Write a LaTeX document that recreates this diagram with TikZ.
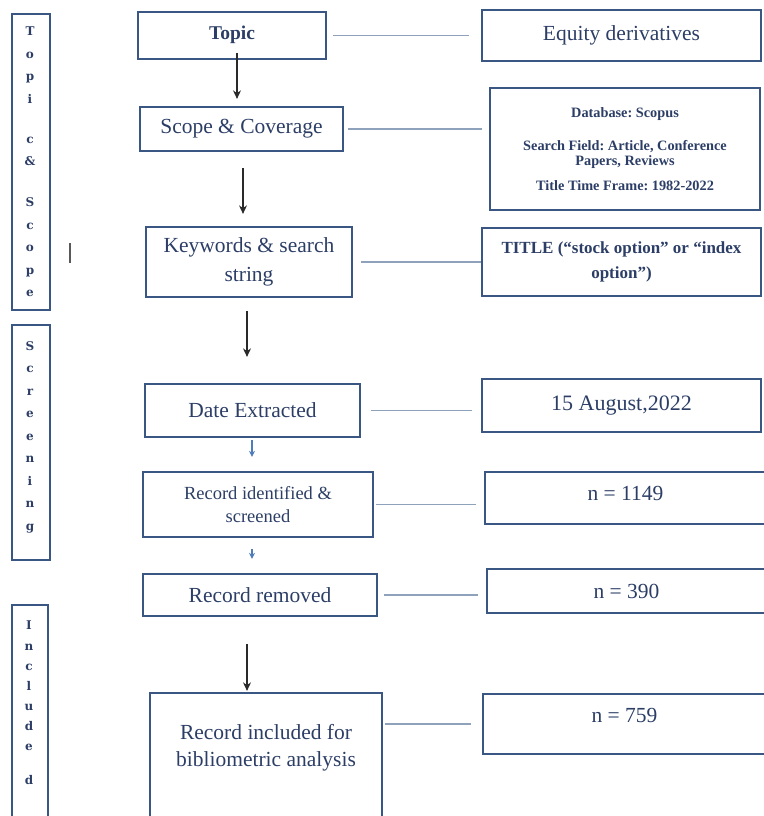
\documentclass[tikz,border=0pt]{standalone}
\usepackage{fontspec}
\setmainfont{Liberation Serif}
\newfontfamily\slabfont{DejaVu Serif}
\usetikzlibrary{arrows.meta,calc}
\frenchspacing
\definecolor{boxc}{HTML}{3A5683}
\definecolor{txtc}{HTML}{2C3E66}
\definecolor{linkc}{HTML}{8EA2BC}
\definecolor{arrc}{HTML}{2A2A2A}
\definecolor{bluearr}{HTML}{4E7DBA}
\tikzset{
  box/.style={draw=boxc,line width=2.3pt,text=txtc,align=center,inner sep=0pt,font=\fontsize{21.5}{25}\selectfont},
  smallbox/.style={box,font=\bfseries\fontsize{14.3}{14.5}\selectfont},
  sidebox/.style={draw=boxc,line width=2.3pt,inner sep=0pt},
  sidetext/.style={text=txtc,align=center,inner sep=0pt,font=\slabfont\bfseries\fontsize{12}{22.5}\selectfont},
  plaintext/.style={text=txtc,align=center,inner sep=0pt},
  link/.style={draw=linkc,line width=1.4pt},
  darr/.style={draw=arrc,line width=1.1pt,-{Stealth[length=8.5pt,width=8pt]}},
  barr/.style={draw=bluearr,line width=1.1pt,-{Stealth[length=6pt,width=6pt]}},
}
\begin{document}
\begin{tikzpicture}[x=1pt,y=-1pt]
\useasboundingbox (0,0) rectangle (763,816);

% left stage boxes
\node[sidebox,minimum width=38pt,minimum height=296pt] (stage1) at (31,162) {};
\node[sidetext,anchor=north] (stage1t) at (30,27) {T\\o\\p\\i\\[17.5pt]c\\\&\\[18.5pt]S\\c\\o\\p\\e};
\node[sidebox,minimum width=38pt,minimum height=235pt] (stage2) at (31,442.5) {};
\node[sidetext,anchor=north] (stage2t) at (30,341) {S\\c\\r\\e\\e\\n\\i\\n\\g};
\node[sidebox,minimum width=36pt,minimum height=225pt] (stage3) at (30,717.5) {};
\node[sidetext,anchor=north,font=\slabfont\bfseries\fontsize{12}{20.1}\selectfont] (stage3t) at (29,621) {I\\n\\c\\l\\u\\d\\e\\[14pt]d};

% stray mark
\draw[draw=black!65,line width=1.2pt] (70,243) -- (70,263);

% centre column
\node[box,font=\bfseries\fontsize{19.5}{24}\selectfont,minimum width=188pt,minimum height=47pt] (topic) at (232,35.5) {\raisebox{5pt}{Topic}};
\node[box,minimum width=203pt,minimum height=44pt] (scope) at (241.5,129) {Scope \& Coverage};
\node[box,font=\fontsize{21.5}{28.5}\selectfont,minimum width=206pt,minimum height=70pt] (kw) at (249,262) {Keywords \& search\\string};
\node[box,minimum width=215pt,minimum height=53pt] (date) at (252.5,410.5) {Date Extracted};
\node[box,font=\fontsize{18.5}{23.5}\selectfont,minimum width=230pt,minimum height=65pt] (rid) at (258,504.5) {Record identified \&\\screened};
\node[box,minimum width=234pt,minimum height=42pt] (rrem) at (260,595) {Record removed};
\node[box,minimum width=232pt,minimum height=129pt] (rinc) at (266,757.5) {};
\node[plaintext,font=\fontsize{21.5}{27}\selectfont] (rinct) at (266,747.5) {Record included for\\bibliometric analysis};

% right column
\node[box,minimum width=279pt,minimum height=51pt] (eq) at (621.5,35.5) {Equity derivatives};
\node[smallbox,minimum width=270pt,minimum height=122pt] (db) at (625,149) {Database: Scopus\\[18.5pt]Search Field: Article, Conference\\Papers, Reviews\\[10.5pt]Title Time Frame: 1982-2022};
\node[box,font=\bfseries\fontsize{17}{25}\selectfont,minimum width=279pt,minimum height=68pt] (title) at (621.5,262) {TITLE (“stock option” or “index\\option”)};
\node[box,font=\fontsize{22}{25}\selectfont,minimum width=279pt,minimum height=53pt] (aug) at (621.5,405.5) {15 August,2022};
\node[box,minimum width=281pt,minimum height=52pt] (n1149) at (625.5,498) {\raisebox{10pt}{n = 1149}};
\node[box,minimum width=279pt,minimum height=44pt] (n390) at (626.5,591) {n = 390};
\node[box,minimum width=283pt,minimum height=60pt] (n759) at (624.5,724) {\raisebox{18pt}{n = 759}};

% horizontal links
\draw[link] ([xshift=6pt]topic.east) -- ([xshift=-12pt]eq.west);
\draw[link] ([xshift=4pt]scope.east) -- ($(scope.east -| db.west)+(-7,0)$);
\draw[link] ([xshift=8pt]kw.east) -- (title.west);
\draw[link] ([xshift=10pt]date.east) -- ($(date.east -| aug.west)+(-9,0)$);
\draw[link] ([xshift=2pt]rid.east) -- ($(rid.east -| n1149.west)+(-8,0)$);
\draw[link] ([xshift=6pt]rrem.east) -- ($(rrem.east -| n390.west)+(-8,0)$);
\draw[link] ($(n759.west -| rinc.east)+(2,0)$) -- ([xshift=-11pt]n759.west);

% vertical arrows
\draw[darr] ([xshift=5pt,yshift=7pt]topic.south) -- ([xshift=-4.5pt,yshift=7pt]scope.north);
\draw[darr] ([xshift=1.5pt,yshift=-16pt]scope.south) -- ([xshift=-6pt,yshift=12pt]kw.north);
\draw[darr] ([xshift=-2pt,yshift=-13pt]kw.south) -- ([xshift=-5.5pt,yshift=26pt]date.north);
\draw[barr] ([xshift=-0.5pt,yshift=-2pt]date.south) -- ([xshift=-6pt,yshift=14pt]rid.north);
\draw[barr] ([xshift=-6pt,yshift=-11pt]rid.south) -- ([xshift=-8pt,yshift=14pt]rrem.north);
\draw[darr] ([xshift=-13pt,yshift=-27pt]rrem.south) -- ([xshift=-19pt,yshift=1pt]rinc.north);
\end{tikzpicture}
\end{document}
